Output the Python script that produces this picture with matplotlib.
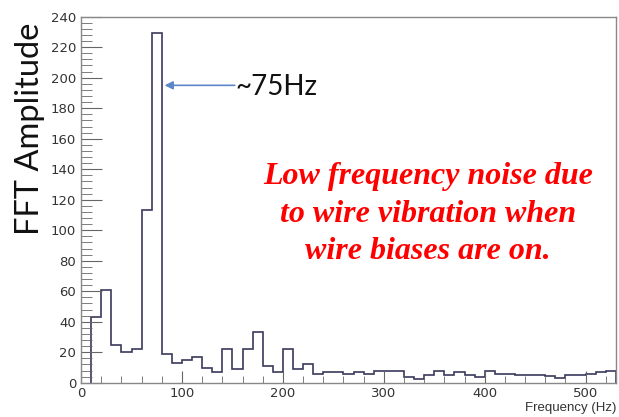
import numpy as np
import matplotlib
matplotlib.use("Agg")
import matplotlib.pyplot as plt
from matplotlib.ticker import MultipleLocator

# FFT spectrum, 10 Hz bins starting at 10 Hz
bin_edges = np.arange(10, 540, 10)
fft_amp = [43, 61, 25, 20, 22, 113, 229, 19, 13, 15,
           17, 10, 7, 22, 9, 22, 33, 11, 7, 22,
           9, 12, 6, 7, 7, 6, 7, 6, 8, 8,
           8, 4, 2.5, 5, 8, 5, 7, 5, 4, 8,
           6, 6, 5, 5, 5, 4.5, 3, 5, 5, 5.5,
           7, 8]

x_ticks = [0, 100, 200, 300, 400, 500]
y_ticks = [0, 20, 40, 60, 80, 100, 120, 140, 160, 180, 200, 220, 240]

note = "Low frequency noise due\nto wire vibration when\nwire biases are on."
peak_label = "~75Hz"

sans = ["Lato", "Open Sans", "DejaVu Sans"]

fig = plt.figure(figsize=(6.19, 4.17), dpi=100)
ax = fig.add_axes([0.131, 0.082, 0.864, 0.878])

ax.stairs(fft_amp, bin_edges, baseline=0, color="#3a3a5c", lw=1.2)

ax.set_xlim(0, 530)
ax.set_ylim(0, 240)
ax.set_xticks(x_ticks)
ax.set_yticks(y_ticks)
ax.xaxis.set_minor_locator(MultipleLocator(20))
ax.yaxis.set_minor_locator(MultipleLocator(4))
ax.tick_params(which="both", direction="in", colors="#666666", labelcolor="#333333",
               labelsize=9.5, top=False, right=False)
ax.tick_params(axis="y", which="major", length=15)
ax.tick_params(axis="y", which="minor", length=8)
ax.tick_params(axis="x", which="major", length=9, pad=3)
ax.tick_params(axis="x", which="minor", length=5)
for s in ax.spines.values():
    s.set_color("#888888")
    s.set_linewidth(1.0)

ax.text(1.0, -0.068, "Frequency (Hz)", transform=ax.transAxes, ha="right", va="center",
        fontsize=9.5, color="#333333", family="Liberation Sans")
fig.text(0.048, 0.69, "FFT Amplitude", rotation=90, ha="center", va="center",
         fontsize=23.5, color="#111111", family=sans)

# arrow pointing at the 75 Hz peak
ax.annotate("", xy=(80, 195), xytext=(155, 195),
            arrowprops=dict(arrowstyle="-|>", color="#5b86c8", lw=1.2, mutation_scale=12))
ax.text(153, 194, peak_label, ha="left", va="center", fontsize=20, color="#111111",
        family=sans)

ax.text(0.649, 0.461, note, transform=ax.transAxes, ha="center", va="center",
        fontsize=23, color="#ff0000", family="Liberation Serif", style="italic",
        weight="bold", linespacing=1.38)

fig.savefig("out.png", dpi=100)
